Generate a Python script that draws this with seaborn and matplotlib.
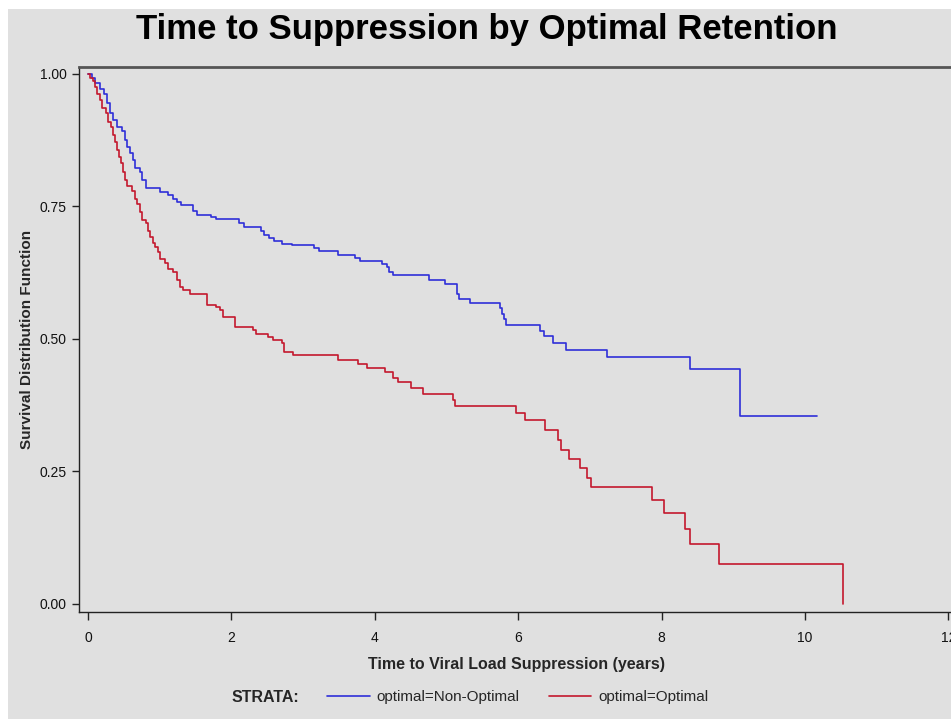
import numpy as np
import pandas as pd
import matplotlib
matplotlib.use("Agg")
import matplotlib.pyplot as plt
from matplotlib.patches import Rectangle
from matplotlib.lines import Line2D
import seaborn as sns

# Kaplan-Meier step estimates: time (years) of each drop and survival after it
nonopt_time = [0.00, 0.05, 0.10, 0.17, 0.22, 0.26, 0.31, 0.35, 0.40, 0.47, 0.52, 0.54,
               0.59, 0.63, 0.66, 0.72, 0.76, 0.81, 1.01, 1.12, 1.19, 1.24, 1.30, 1.47,
               1.52, 1.71, 1.78, 2.10, 2.17, 2.41, 2.45, 2.52, 2.59, 2.71, 2.85, 3.15,
               3.22, 3.48, 3.73, 3.80, 4.10, 4.17, 4.20, 4.25, 4.76, 4.98, 5.14, 5.18,
               5.33, 5.74, 5.77, 5.80, 5.83, 6.31, 6.36, 6.49, 6.66, 7.24, 8.40, 9.10,
               10.17]
nonopt_surv = [1.000, 0.992, 0.983, 0.971, 0.963, 0.945, 0.926, 0.913, 0.900, 0.892, 0.875, 0.863,
               0.850, 0.838, 0.822, 0.816, 0.800, 0.784, 0.778, 0.772, 0.765, 0.758, 0.752, 0.742,
               0.734, 0.730, 0.726, 0.718, 0.712, 0.703, 0.696, 0.690, 0.684, 0.680, 0.677, 0.671,
               0.666, 0.659, 0.652, 0.648, 0.641, 0.636, 0.627, 0.621, 0.611, 0.603, 0.585, 0.576,
               0.567, 0.558, 0.547, 0.538, 0.526, 0.516, 0.505, 0.492, 0.479, 0.466, 0.443, 0.355,
               0.355]

opt_time = [0.00, 0.03, 0.07, 0.10, 0.13, 0.17, 0.20, 0.25, 0.28, 0.32, 0.35, 0.37,
            0.40, 0.43, 0.46, 0.49, 0.52, 0.55, 0.61, 0.65, 0.69, 0.72, 0.76, 0.81,
            0.84, 0.87, 0.90, 0.93, 0.97, 1.00, 1.07, 1.11, 1.18, 1.24, 1.28, 1.32,
            1.42, 1.66, 1.79, 1.84, 1.88, 2.05, 2.30, 2.35, 2.51, 2.58, 2.70, 2.73,
            2.86, 3.48, 3.77, 3.89, 4.14, 4.26, 4.32, 4.50, 4.67, 5.09, 5.12, 5.97,
            6.09, 6.37, 6.55, 6.60, 6.71, 6.86, 6.96, 7.02, 7.86, 8.03, 8.32, 8.40,
            8.80, 10.53]
opt_surv = [1.000, 0.992, 0.986, 0.976, 0.963, 0.951, 0.935, 0.926, 0.910, 0.900, 0.885, 0.872,
            0.857, 0.844, 0.832, 0.816, 0.800, 0.788, 0.780, 0.765, 0.755, 0.740, 0.725, 0.718,
            0.703, 0.693, 0.681, 0.674, 0.665, 0.650, 0.643, 0.633, 0.627, 0.611, 0.599, 0.592,
            0.585, 0.564, 0.561, 0.554, 0.542, 0.523, 0.517, 0.509, 0.503, 0.498, 0.493, 0.475,
            0.470, 0.460, 0.452, 0.446, 0.437, 0.427, 0.418, 0.407, 0.396, 0.384, 0.374, 0.360,
            0.347, 0.329, 0.309, 0.291, 0.273, 0.256, 0.237, 0.220, 0.196, 0.171, 0.142, 0.113,
            0.075, 0.000]

strata_labels = ["optimal=Non-Optimal", "optimal=Optimal"]
x_ticks = [0, 2, 4, 6, 8, 10, 12]
y_ticks = [0.00, 0.25, 0.50, 0.75, 1.00]

df = pd.concat([
    pd.DataFrame({"time": nonopt_time, "surv": nonopt_surv, "strata": strata_labels[0]}),
    pd.DataFrame({"time": opt_time, "surv": opt_surv, "strata": strata_labels[1]}),
], ignore_index=True)

sns.set_style("ticks")
plt.rcParams["font.family"] = ["Liberation Sans", "DejaVu Sans"]

BG = "#e0e0e0"
colors = {strata_labels[0]: "#2f2fd8", strata_labels[1]: "#c4182e"}

fig = plt.figure(figsize=(9.51, 7.19), dpi=100, facecolor="white")
fig.add_artist(Rectangle((8 / 951, 0), 1, 1 - 9 / 719, transform=fig.transFigure,
                         facecolor=BG, edgecolor="none", zorder=-10))

ax = fig.add_axes([79 / 951, (719 - 612) / 719, (965 - 79) / 951, (612 - 67) / 719])
ax.set_facecolor(BG)

sns.lineplot(data=df, x="time", y="surv", hue="strata", palette=colors,
             estimator=None, sort=True, drawstyle="steps-post", linewidth=1.2,
             legend=False, ax=ax)

ax.set_xlim(-0.1255, (965 - 88) / 71.7)
ax.set_ylim(-0.0151, 1.0132)
ax.set_xticks(x_ticks)
ax.set_yticks(y_ticks)
ax.set_xticklabels([str(v) for v in x_ticks])
ax.set_yticklabels([f"{v:.2f}" for v in y_ticks])
ax.tick_params(axis="both", direction="out", length=5, width=1, color="#222222",
               labelsize=10, labelcolor="#111111", pad=4)
ax.tick_params(axis="x", length=6, pad=8)

for side in ["left", "bottom"]:
    ax.spines[side].set_color("#222222")
    ax.spines[side].set_linewidth(1.0)
ax.spines["top"].set_visible(True)
ax.spines["top"].set_color("#555555")
ax.spines["top"].set_linewidth(2.0)
ax.spines["right"].set_visible(False)

ax.set_xlabel("Time to Viral Load Suppression (years)", fontsize=11.5, fontweight="bold")
ax.set_ylabel("Survival Distribution Function", fontsize=11, fontweight="bold",
              labelpad=4)
ax.xaxis.set_label_coords((516 - 79) / (965 - 79), -(657 - 612) / (612 - 67))

fig.text(487 / 951, 1 - 30 / 719, "Time to Suppression by Optimal Retention",
         ha="center", va="center", fontsize=25, fontweight="bold", color="black")

# Legend strip along the bottom
fig.text(265 / 951, 1 - 697 / 719, "STRATA:", ha="center", va="center",
         fontsize=11.5, fontweight="bold")
handles = [Line2D([], [], color=colors[s], linewidth=1.2) for s in strata_labels]
fig.legend(handles, strata_labels, loc="center left", ncol=2, frameon=False,
           bbox_to_anchor=(327 / 951, 1 - 697 / 719), fontsize=11,
           handlelength=2.8, handletextpad=0.45, columnspacing=1.9,
           borderpad=0, borderaxespad=0)

fig.savefig("out.png", dpi=100, facecolor="white")
